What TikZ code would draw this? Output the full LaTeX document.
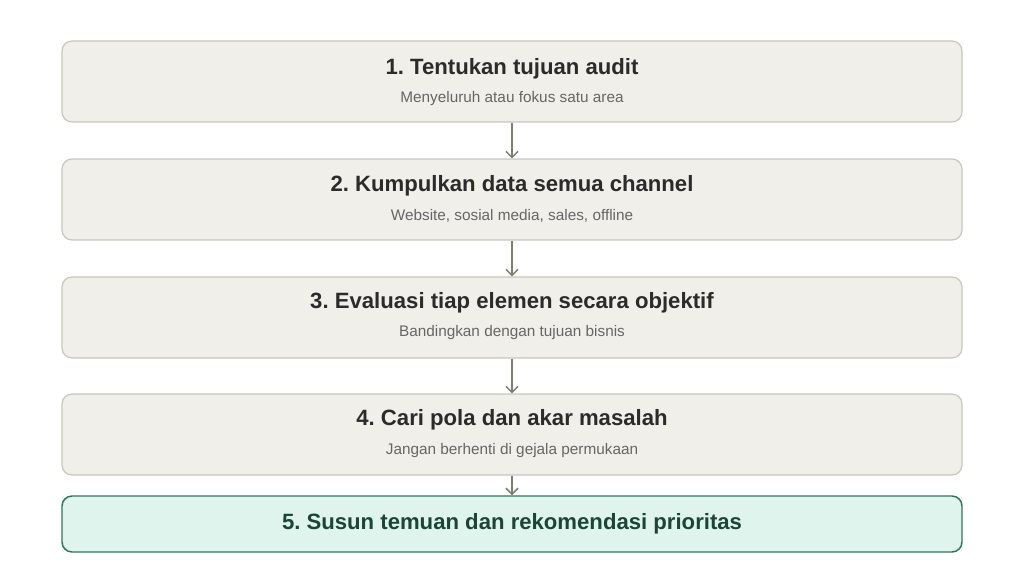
\documentclass[tikz,border=0pt]{standalone}
\usepackage{fontspec}
\setmainfont{Liberation Sans}
\usetikzlibrary{arrows.meta}
\definecolor{boxfill}{HTML}{F0EFEA}
\definecolor{boxline}{HTML}{C8C6BD}
\definecolor{titlecol}{HTML}{2B2B2B}
\definecolor{subcol}{HTML}{666666}
\definecolor{greenfill}{HTML}{E0F4EE}
\definecolor{greenline}{HTML}{2E7558}
\definecolor{greentext}{HTML}{1B4536}
\definecolor{arrowcol}{HTML}{7B7F70}
\frenchspacing
\begin{document}
\begin{tikzpicture}[x=0.75pt,y=-0.75pt,
  stepbox/.style={draw=boxline,fill=boxfill,line width=0.9pt,rounded corners=7.5pt,minimum width=675pt,minimum height=60.75pt,inner sep=0pt},
  finalbox/.style={draw=greenline,fill=greenfill,line width=1.1pt,rounded corners=7.5pt,minimum width=675pt,minimum height=42pt,inner sep=0pt},
  titletxt/.style={font=\bfseries\fontsize{16.6}{19}\selectfont,text=titlecol,inner sep=0pt},
  finaltxt/.style={font=\bfseries\fontsize{16.6}{19}\selectfont,text=greentext,inner sep=0pt},
  subtxt/.style={font=\fontsize{11.5}{14}\selectfont,text=subcol,inner sep=0pt},
  flow/.style={draw=arrowcol,line width=1.1pt,-{Straight Barb[length=4.5pt,width=9pt,line width=1.1pt]}}
]
\useasboundingbox (0,0) rectangle (1024,573);
\node[stepbox] (b1) at (512,81.5) {};
\node[stepbox] (b2) at (512,199.5) {};
\node[stepbox] (b3) at (512,317.5) {};
\node[stepbox] (b4) at (512,434.5) {};
\node[finalbox] (b5) at (512,524) {};
\node[titletxt] (t1) at (512,68.5) {1. Tentukan tujuan audit};
\node[subtxt] (s1) at (512,98.5) {Menyeluruh atau fokus satu area};
\node[titletxt] (t2) at (512,186) {2. Kumpulkan data semua channel};
\node[subtxt] (s2) at (512,215.5) {Website, sosial media, sales, offline};
\node[titletxt] (t3) at (512,303) {3. Evaluasi tiap elemen secara objektif};
\node[subtxt] (s3) at (512,333) {Bandingkan dengan tujuan bisnis};
\node[titletxt] (t4) at (512,420) {4. Cari pola dan akar masalah};
\node[subtxt] (s4) at (512,450.5) {Jangan berhenti di gejala permukaan};
\node[finaltxt] (t5) at (512,523.5) {5. Susun temuan dan rekomendasi prioritas};
\draw[flow] (b1.south) -- (b2.north);
\draw[flow] (b2.south) -- (b3.north);
\draw[flow] (b3.south) -- (b4.north);
\draw[flow] (b4.south) -- (b5.north);
\end{tikzpicture}
\end{document}
